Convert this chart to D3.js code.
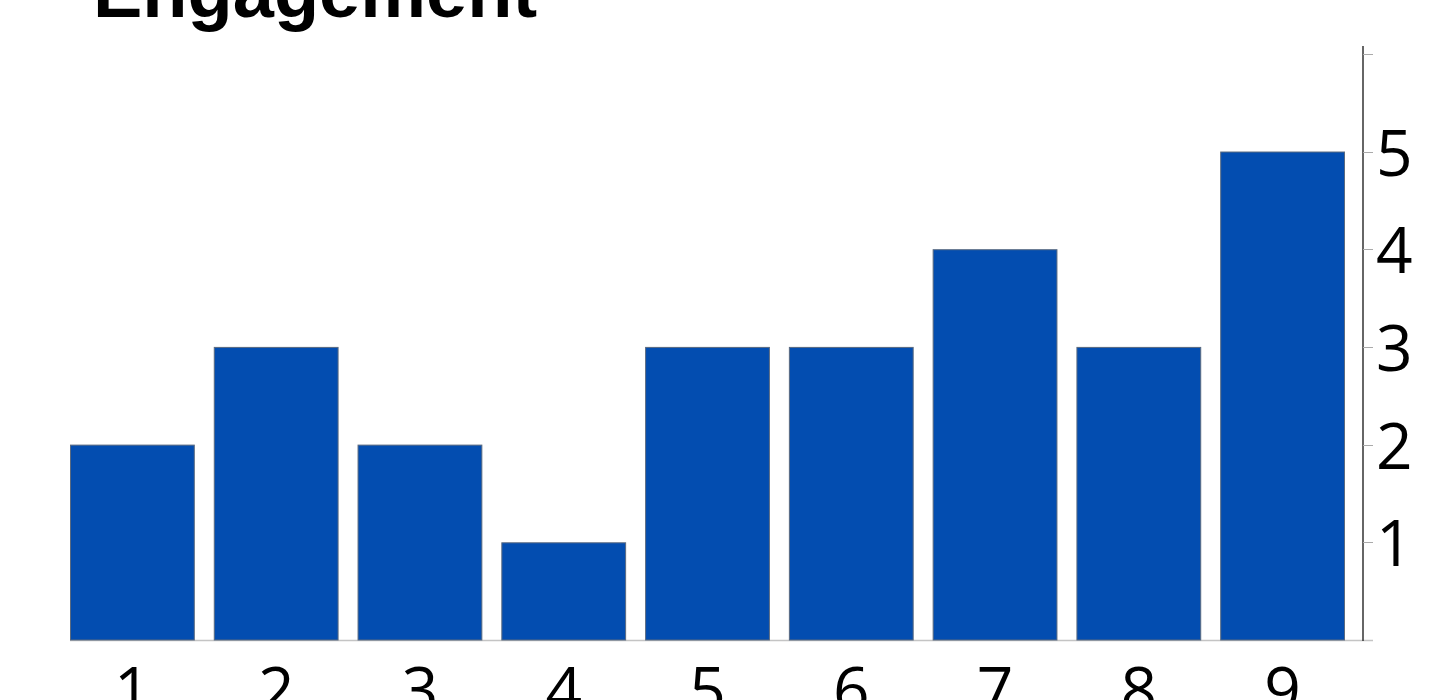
<!DOCTYPE html>
<html><head><meta charset="utf-8">
<script src="https://cdn.jsdelivr.net/npm/d3@7"></script>
<style>body{margin:0;background:#fff;overflow:hidden}</style>
</head><body>
<svg id="c" width="1450" height="700"></svg>
<script>
const title = "Engagement";
const categories = ["1","2","3","4","5","6","7","8","9"];
const values = [2,3,2,1,3,3,4,3,5];
const yTicks = [1,2,3,4,5,6];
const yLabels = ["1","2","3","4","5",""];

const svg = d3.select("#c");
const x = d3.scaleBand().domain(categories).range([70,1345]).paddingInner(0.132).paddingOuter(0);
const y = d3.scaleLinear().domain([0,6.08]).range([640,46]);

svg.append("text").attr("x",93).attr("y",17)
  .attr("font-family","Liberation Sans, Arial, sans-serif").attr("font-weight","bold")
  .attr("font-size",74).attr("fill","#000").text(title);

// baseline
svg.append("line").attr("x1",70).attr("x2",1373).attr("y1",y(0)+0.5).attr("y2",y(0)+0.5)
  .attr("stroke","#c4c4c4").attr("stroke-width",1.5);

svg.selectAll("rect.bar").data(values).join("rect").attr("class","bar")
  .attr("x",(d,i)=>x(categories[i])+0.5).attr("width",x.bandwidth()-1)
  .attr("y",d=>y(d)+0.5).attr("height",d=>y(0)-y(d)-0.5)
  .attr("fill","#034db0").attr("stroke","#5a6a80").attr("stroke-width",1);

// right axis
const axisX = 1363;
svg.append("line").attr("x1",axisX).attr("x2",axisX).attr("y1",y.range()[1]).attr("y2",y(0)+1)
  .attr("stroke","#333").attr("stroke-width",1.5);
svg.selectAll("line.tick").data(yTicks).join("line").attr("class","tick")
  .attr("x1",axisX).attr("x2",axisX+10).attr("y1",d=>Math.round(y(d))+0.5).attr("y2",d=>Math.round(y(d))+0.5)
  .attr("stroke","#aaa").attr("stroke-width",1);
svg.selectAll("text.ylab").data(yTicks).join("text").attr("class","ylab")
  .attr("x",axisX+13).attr("y",d=>y(d)+7).attr("dominant-baseline","middle")
  .attr("font-family","Open Sans, Noto Sans, sans-serif").attr("font-size",64).attr("fill","#000")
  .text((d,i)=>yLabels[i]);

// x labels
svg.selectAll("text.xlab").data(categories).join("text").attr("class","xlab")
  .attr("x",d=>x(d)+x.bandwidth()/2).attr("y",713).attr("text-anchor","middle")
  .attr("font-family","Open Sans, Noto Sans, sans-serif").attr("font-size",64).attr("fill","#000")
  .text(d=>d);
</script>
</body></html>
